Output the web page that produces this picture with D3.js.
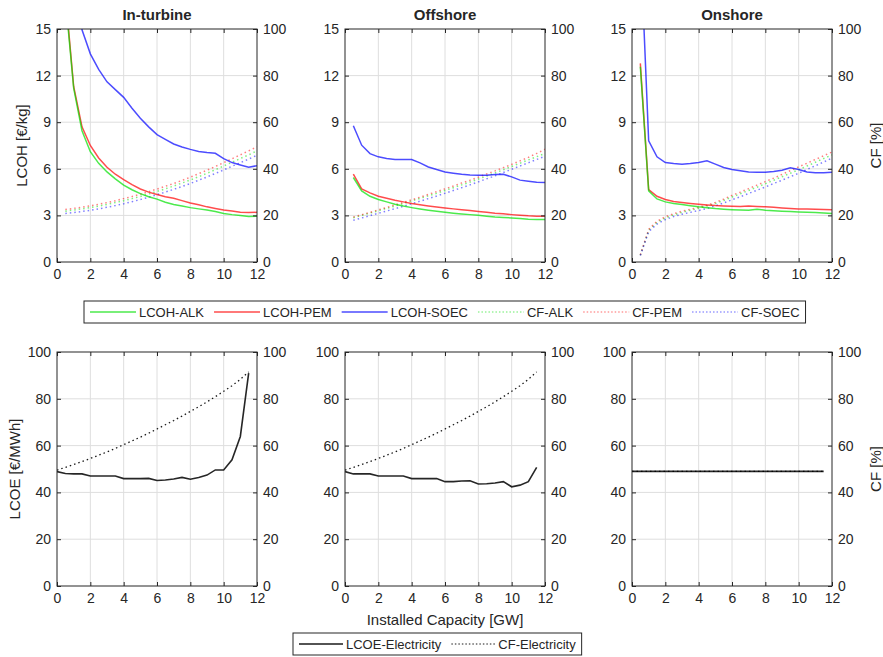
<!DOCTYPE html>
<html lang="en">
<head>
<meta charset="UTF-8">
<title>LCOH / LCOE vs Installed Capacity</title>
<style>
    body { margin: 0; background: #fff; }
    svg text { font-family: "Liberation Sans", Arial, Helvetica, sans-serif; fill: #262626; }
</style>
</head>
<body>
<script src="https://d3js.org/d3.v7.min.js"></script>
<script>
// ---- data ----
const sites = ["In-turbine", "Offshore", "Onshore"];
const xTop = [0.5, 1, 1.5, 2, 2.5, 3, 3.5, 4, 4.5, 5, 5.5, 6, 6.5, 7, 7.5, 8, 8.5, 9, 9.5, 10, 10.5, 11, 11.5, 12];
const xBot = [0, 0.5, 1, 1.5, 2, 2.5, 3, 3.5, 4, 4.5, 5, 5.5, 6, 6.5, 7, 7.5, 8, 8.5, 9, 9.5, 10, 10.5, 11, 11.5];

const xTicks = [0, 2, 4, 6, 8, 10, 12];
const lcohTicks = [0, 3, 6, 9, 12, 15];
const pctTicks = [0, 20, 40, 60, 80, 100];

// In-turbine
const lcohAlkTurb = [17.0, 11.2, 8.45, 7.1, 6.35, 5.8, 5.35, 4.95, 4.65, 4.4, 4.2, 4.05, 3.85, 3.7, 3.6, 3.5, 3.42, 3.35, 3.25, 3.12, 3.05, 3.0, 2.93, 2.95];
const lcohPemTurb = [17.3, 11.3, 8.7, 7.5, 6.7, 6.1, 5.65, 5.3, 4.98, 4.7, 4.5, 4.35, 4.2, 4.1, 3.95, 3.8, 3.68, 3.55, 3.45, 3.35, 3.28, 3.2, 3.18, 3.2];
const lcohSoecTurb = [24.0, 18.5, 14.95, 13.4, 12.4, 11.6, 11.1, 10.6, 9.9, 9.25, 8.7, 8.2, 7.9, 7.6, 7.4, 7.25, 7.12, 7.05, 7.0, 6.65, 6.4, 6.25, 6.1, 6.2];
const cfAlkTurb = [21.8, 22.3, 22.8, 23.4, 24.0, 24.7, 25.5, 26.3, 27.2, 28.1, 29.2, 30.3, 31.4, 32.6, 33.9, 35.2, 36.6, 38.1, 39.6, 41.2, 42.8, 44.4, 46.0, 47.7];
const cfPemTurb = [22.5, 23.0, 23.5, 24.1, 24.8, 25.5, 26.3, 27.2, 28.1, 29.1, 30.2, 31.3, 32.5, 33.7, 35.0, 36.4, 37.9, 39.4, 41.0, 42.6, 44.3, 46.0, 47.7, 49.4];
const cfSoecTurb = [20.8, 21.2, 21.7, 22.2, 22.8, 23.5, 24.2, 25.0, 25.9, 26.8, 27.8, 28.9, 30.0, 31.2, 32.4, 33.7, 35.1, 36.5, 38.0, 39.5, 41.1, 42.6, 44.2, 45.8];

// Offshore
const lcohAlkOff = [5.44, 4.58, 4.23, 4.02, 3.87, 3.72, 3.6, 3.5, 3.41, 3.33, 3.26, 3.2, 3.14, 3.09, 3.05, 3.01, 2.95, 2.9, 2.87, 2.84, 2.8, 2.75, 2.73, 2.73];
const lcohPemOff = [5.65, 4.7, 4.45, 4.23, 4.1, 3.97, 3.87, 3.76, 3.68, 3.61, 3.54, 3.48, 3.42, 3.37, 3.31, 3.25, 3.2, 3.14, 3.1, 3.05, 3.01, 2.97, 2.95, 2.95];
const lcohSoecOff = [8.77, 7.52, 6.98, 6.77, 6.66, 6.6, 6.6, 6.6, 6.38, 6.12, 5.95, 5.8, 5.72, 5.65, 5.6, 5.59, 5.59, 5.63, 5.65, 5.48, 5.27, 5.2, 5.14, 5.12];
const cfAlkOff = [19.0, 20.0, 21.0, 22.0, 23.0, 24.0, 25.1, 26.2, 27.3, 28.4, 29.5, 30.7, 31.9, 33.1, 34.3, 35.6, 36.9, 38.2, 39.6, 41.0, 42.4, 43.8, 45.2, 46.6];
const cfPemOff = [19.3, 20.3, 21.3, 22.4, 23.4, 24.5, 25.6, 26.7, 27.8, 29.0, 30.2, 31.4, 32.6, 33.9, 35.1, 36.4, 37.8, 39.1, 40.5, 41.9, 43.4, 44.9, 46.6, 48.4];
const cfSoecOff = [17.9, 18.9, 19.9, 20.9, 21.9, 22.9, 23.9, 25.0, 26.1, 27.2, 28.3, 29.5, 30.7, 31.9, 33.1, 34.4, 35.7, 37.0, 38.4, 39.8, 41.2, 42.6, 44.0, 45.4];

// Onshore
const lcohAlkOn = [12.57, 4.58, 4.06, 3.87, 3.76, 3.7, 3.62, 3.55, 3.5, 3.44, 3.4, 3.37, 3.35, 3.33, 3.4, 3.33, 3.3, 3.27, 3.25, 3.22, 3.2, 3.18, 3.15, 3.12];
const lcohPemOn = [12.79, 4.66, 4.23, 4.02, 3.89, 3.83, 3.77, 3.72, 3.67, 3.63, 3.61, 3.59, 3.58, 3.61, 3.58, 3.55, 3.52, 3.48, 3.45, 3.42, 3.41, 3.4, 3.38, 3.37];
const lcohSoecOn = [20.7, 7.8, 6.77, 6.4, 6.34, 6.3, 6.34, 6.4, 6.51, 6.3, 6.08, 5.95, 5.87, 5.8, 5.78, 5.78, 5.82, 5.91, 6.06, 5.95, 5.8, 5.74, 5.74, 5.78];
const cfAlkOn = [2.9, 13.6, 17.0, 18.9, 20.2, 21.3, 22.2, 23.1, 24.0, 25.1, 26.4, 27.9, 29.3, 30.7, 32.1, 33.6, 35.1, 36.6, 38.1, 39.6, 41.2, 42.8, 44.4, 46.0];
const cfPemOn = [3.0, 14.0, 17.5, 19.4, 20.7, 21.8, 22.6, 23.5, 24.4, 25.6, 27.0, 28.6, 30.0, 31.5, 33.0, 34.5, 36.0, 37.6, 39.2, 40.8, 42.4, 44.0, 45.6, 47.2];
const cfSoecOn = [2.8, 13.0, 16.3, 18.2, 19.5, 20.5, 21.3, 22.1, 23.0, 24.1, 25.3, 26.7, 28.0, 29.4, 30.8, 32.2, 33.7, 35.1, 36.6, 38.1, 39.7, 41.3, 42.9, 44.6];

// Electricity (bottom row)
const lcoeTurb = [48.9, 48.1, 47.9, 47.9, 47.0, 47.0, 47.0, 47.0, 45.9, 45.9, 45.9, 46.0, 45.1, 45.3, 45.7, 46.4, 45.6, 46.4, 47.4, 49.6, 49.6, 53.9, 63.9, 91.0];
const cfElecTurb = [49.5, 50.7, 51.9, 53.2, 54.5, 55.9, 57.3, 58.8, 60.4, 62.0, 63.6, 65.3, 67.1, 68.9, 70.7, 72.6, 74.6, 76.6, 78.7, 80.9, 83.2, 85.6, 88.3, 91.5];
const lcoeOff = [48.9, 47.9, 47.9, 47.9, 47.0, 47.0, 47.0, 47.0, 45.9, 45.9, 45.9, 45.9, 44.6, 44.6, 44.9, 45.0, 43.6, 43.7, 44.0, 44.6, 42.4, 43.1, 44.6, 50.7];
const cfElecOff = [49.5, 50.7, 51.9, 53.2, 54.5, 55.9, 57.3, 58.8, 60.4, 62.0, 63.6, 65.3, 67.1, 68.9, 70.7, 72.6, 74.6, 76.6, 78.7, 80.9, 83.2, 85.6, 88.3, 91.5];
const lcoeOn = [49.0, 49.0, 49.0, 49.0, 49.0, 49.0, 49.0, 49.0, 49.0, 49.0, 49.0, 49.0, 49.0, 49.0, 49.0, 49.0, 49.0, 49.0, 49.0, 49.0, 49.0, 49.0, 49.0, 49.0];
const cfElecOn = [49.0, 49.0, 49.0, 49.0, 49.0, 49.0, 49.0, 49.0, 49.0, 49.0, 49.0, 49.0, 49.0, 49.0, 49.0, 49.0, 49.0, 49.0, 49.0, 49.0, 49.0, 49.0, 49.0, 49.0];

const topLegend = ["LCOH-ALK", "LCOH-PEM", "LCOH-SOEC", "CF-ALK", "CF-PEM", "CF-SOEC"];
const botLegend = ["LCOE-Electricity", "CF-Electricity"];

// ---- layout ----
const W = 883, H = 657;
const colX = [57, 345, 632];
const pw = 200;
const rowTop = { y: 29, h: 233 };
const rowBot = { y: 352, h: 234 };
const axisCol = "#262626";
const gridCol = "#dedede";
const green = "rgb(0,225,0)", red = "rgb(255,0,0)", blue = "rgb(0,0,255)";

const svg = d3.select("body").append("svg")
    .attr("width", W)
    .attr("height", H);

let clipId = 0;

function panel(px, row, yLeftMax, leftTicks, series) {
    let x = d3.scaleLinear().domain([0, 12]).range([px, px + pw]);
    let yL = d3.scaleLinear().domain([0, yLeftMax]).range([row.y + row.h, row.y]);
    let yR = d3.scaleLinear().domain([0, 100]).range([row.y + row.h, row.y]);

    let g = svg.append("g");

    // grid
    g.append("g").selectAll("line").data(xTicks.slice(1, -1)).enter().append("line")
        .attr("x1", d => x(d)).attr("x2", d => x(d))
        .attr("y1", row.y).attr("y2", row.y + row.h)
        .attr("stroke", gridCol).attr("stroke-width", 1);
    g.append("g").selectAll("line").data(leftTicks.slice(1, -1)).enter().append("line")
        .attr("y1", d => yL(d)).attr("y2", d => yL(d))
        .attr("x1", px).attr("x2", px + pw)
        .attr("stroke", gridCol).attr("stroke-width", 1);

    // lines
    let id = "clip" + (clipId++);
    svg.append("clipPath").attr("id", id).append("rect")
        .attr("x", px).attr("y", row.y).attr("width", pw).attr("height", row.h);
    let lg = g.append("g").attr("clip-path", `url(#${id})`);

    series.forEach(s => {
        let yS = s.right ? yR : yL;
        let line = d3.line().x((d, i) => x(s.xs[i])).y(d => yS(d));
        lg.append("path")
            .attr("d", line(s.vals))
            .attr("fill", "none")
            .attr("stroke", s.color)
            .attr("stroke-opacity", s.opacity)
            .attr("stroke-width", s.width)
            .attr("stroke-dasharray", s.dash || null);
    });

    // axes (inward ticks, box)
    let font = g => g.selectAll("text").style("font-size", "14px").attr("fill", axisCol);
    let clean = g => { g.select(".domain").remove(); g.selectAll(".tick line").attr("stroke", axisCol); };

    g.append("g").attr("transform", `translate(0,${row.y + row.h})`)
        .call(d3.axisBottom(x).tickValues(xTicks).tickSize(-4).tickPadding(7))
        .call(clean).call(font);
    g.append("g").attr("transform", `translate(0,${row.y})`)
        .call(d3.axisTop(x).tickValues(xTicks).tickSize(-4).tickFormat(""))
        .call(clean);
    g.append("g").attr("transform", `translate(${px},0)`)
        .call(d3.axisLeft(yL).tickValues(leftTicks).tickSize(-4).tickPadding(6))
        .call(clean).call(font);
    g.append("g").attr("transform", `translate(${px + pw},0)`)
        .call(d3.axisRight(yR).tickValues(pctTicks).tickSize(-4).tickPadding(6))
        .call(clean).call(font);

    g.append("rect")
        .attr("x", px).attr("y", row.y).attr("width", pw).attr("height", row.h)
        .attr("fill", "none").attr("stroke", axisCol).attr("stroke-width", 1);

    return g;
}

function h2Series(alk, pem, soec, cfa, cfp, cfs) {
    return [
        { xs: xTop, vals: cfa, right: true, color: green, opacity: 0.5, width: 1.5, dash: "1.5,3" },
        { xs: xTop, vals: cfp, right: true, color: red, opacity: 0.5, width: 1.5, dash: "1.5,3" },
        { xs: xTop, vals: cfs, right: true, color: blue, opacity: 0.5, width: 1.5, dash: "1.5,3" },
        { xs: xTop, vals: soec, color: blue, opacity: 0.7, width: 1.5 },
        { xs: xTop, vals: pem, color: red, opacity: 0.7, width: 1.5 },
        { xs: xTop, vals: alk, color: green, opacity: 0.7, width: 1.5 }
    ];
}

function elecSeries(lcoe, cf) {
    return [
        { xs: xBot, vals: cf, right: true, color: "#000", opacity: 0.9, width: 1.3, dash: "1.5,3" },
        { xs: xBot, vals: lcoe, color: "#000", opacity: 0.85, width: 1.6 }
    ];
}

const topSeries = [
    h2Series(lcohAlkTurb, lcohPemTurb, lcohSoecTurb, cfAlkTurb, cfPemTurb, cfSoecTurb),
    h2Series(lcohAlkOff, lcohPemOff, lcohSoecOff, cfAlkOff, cfPemOff, cfSoecOff),
    h2Series(lcohAlkOn, lcohPemOn, lcohSoecOn, cfAlkOn, cfPemOn, cfSoecOn)
];
const botSeries = [
    elecSeries(lcoeTurb, cfElecTurb),
    elecSeries(lcoeOff, cfElecOff),
    elecSeries(lcoeOn, cfElecOn)
];

sites.forEach((name, i) => {
    panel(colX[i], rowTop, 15, lcohTicks, topSeries[i]);
    panel(colX[i], rowBot, 100, pctTicks, botSeries[i]);

    svg.append("text")
        .attr("x", colX[i] + pw / 2).attr("y", 20)
        .attr("text-anchor", "middle")
        .style("font-size", "15px").style("font-weight", "bold")
        .attr("fill", "#000")
        .text(name);
});

// axis labels
function vlabel(x, y, t) {
    svg.append("text")
        .attr("transform", `translate(${x},${y}) rotate(-90)`)
        .attr("text-anchor", "middle").attr("dy", "0.35em")
        .style("font-size", "15px")
        .text(t);
}
vlabel(22, rowTop.y + rowTop.h / 2, "LCOH [€/kg]");
vlabel(15, rowBot.y + rowBot.h / 2, "LCOE [€/MWh]");
vlabel(876, rowTop.y + rowTop.h / 2, "CF [%]");
vlabel(876, rowBot.y + rowBot.h / 2, "CF [%]");

svg.append("text")
    .attr("x", colX[1] + pw / 2).attr("y", 625)
    .attr("text-anchor", "middle")
    .style("font-size", "15px")
    .text("Installed Capacity [GW]");

// legends
function legend(x0, y0, hgt, items, sampleLen) {
    let g = svg.append("g");
    let box = g.append("rect").attr("y", y0).attr("height", hgt)
        .attr("fill", "#fff").attr("stroke", axisCol).attr("stroke-width", 1);
    let cx = x0 + 6;
    let cy = y0 + hgt / 2;
    items.forEach(it => {
        g.append("line")
            .attr("x1", cx).attr("x2", cx + sampleLen)
            .attr("y1", cy).attr("y2", cy)
            .attr("stroke", it.color).attr("stroke-opacity", it.opacity)
            .attr("stroke-width", it.width)
            .attr("stroke-dasharray", it.dash || null);
        cx += sampleLen + 3;
        let t = g.append("text")
            .attr("x", cx).attr("y", cy).attr("dy", "0.35em")
            .style("font-size", "13px")
            .text(it.label);
        cx += t.node().getComputedTextLength() + 10;
    });
    box.attr("x", x0).attr("width", cx - x0 - 4);
}

const topColors = [green, red, blue, green, red, blue];
legend(84, 301, 22, topLegend.map((l, i) => ({
    label: l, color: topColors[i],
    opacity: i < 3 ? 0.7 : 0.4,
    width: 1.5,
    dash: i < 3 ? null : "1.5,2"
})), 46);

legend(293, 633, 22, botLegend.map((l, i) => ({
    label: l, color: "#000", opacity: 0.9,
    width: i == 0 ? 1.5 : 1,
    dash: i == 0 ? null : "1.5,2"
})), 44);
</script>
</body>
</html>
